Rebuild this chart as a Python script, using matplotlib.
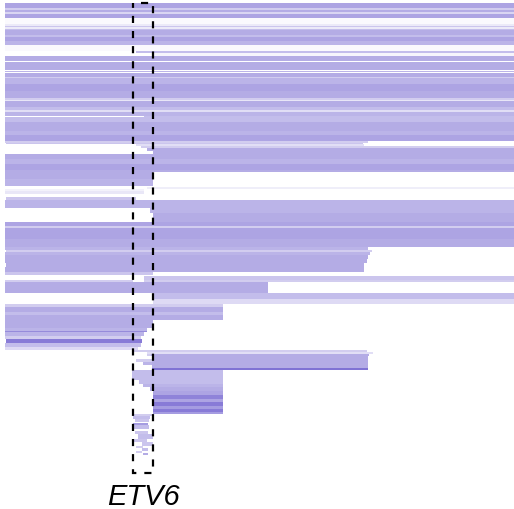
"""Deletion segments around ETV6, one bar per sample segment."""

import matplotlib
matplotlib.use("Agg")
import matplotlib.pyplot as plt
from matplotlib.colors import to_rgba
from matplotlib.patches import Rectangle

# segment rows (top/bottom in sample-row units), genomic span (bins) and depth
row_top = [4, 9, 10.5, 13, 14.5, 19, 25, 27, 28, 29.5,
           31, 36, 38, 42, 46, 52, 54, 57, 63, 71.5,
           73.5, 78, 79, 85, 92, 99, 101, 102, 108, 111,
           113, 117, 118, 123, 132, 136, 142, 143.5, 145, 147,
           149, 152, 155, 160, 165, 171, 173, 180, 188, 190,
           192, 198, 201, 209, 214, 223, 227, 229, 240, 248,
           251, 253, 256, 260, 264, 268, 273, 277, 281, 281,
           283, 294, 300, 305, 308, 313, 316, 321, 329, 332,
           333, 337, 340, 344, 348, 351, 353, 355, 357, 369,
           355, 360, 363, 371, 381, 385, 388, 392, 396, 400,
           403, 407, 410, 413, 415, 417, 420, 424, 426, 432,
           435, 440, 443, 447, 449, 452, 454]
row_bottom = [9, 10.5, 13, 14.5, 19, 25, 27, 28, 29.5, 31,
              36, 38, 42, 46, 52, 54, 57, 62, 71, 73,
              78, 79, 85, 92, 99, 101, 102, 108, 111, 113,
              117, 118, 123, 132, 136, 142, 143.5, 145, 147, 149,
              152, 155, 160, 165, 171, 173, 180, 187, 189.5, 192,
              195, 201, 209, 214, 223, 227, 229, 240, 248, 251,
              253, 256, 260, 264, 268, 273, 276, 281, 283, 283,
              294, 300, 305, 308, 313, 316, 321, 329, 332, 333,
              337, 340, 344, 348, 351, 353, 355, 357, 369, 370.5,
              357, 363, 366, 381, 385, 388, 392, 396, 400, 403,
              407, 410, 413, 415, 417, 420, 423, 426, 430, 435,
              440, 443, 447, 449, 452, 454, 456]
seg_start = [5, 5, 5, 5, 5, 5, 5, 5, 5, 5,
             5, 5, 5, 5, 5, 136, 153, 5, 5, 5,
             5, 5, 5, 5, 5, 5, 5, 5, 5, 5,
             5, 144, 5, 5, 5, 5, 5, 6, 136, 141,
             147, 153, 5, 5, 5, 5, 5, 5, 147, 5,
             5, 6, 5, 150, 153, 5, 5, 5, 5, 5,
             6, 5, 5, 5, 6, 5, 5, 144, 5, 144,
             5, 153, 153, 5, 5, 5, 5, 5, 5, 5,
             5, 5, 6, 5, 5, 133, 147, 151, 152, 152,
             147, 136, 143, 132, 139, 143, 150, 153, 153, 153,
             153, 153, 153, 153, 132, 133, 135, 133, 133, 135,
             138, 133, 142, 136, 142, 136, 143]
seg_end = [514, 514, 514, 514, 514, 514, 514, 514, 514, 514,
           514, 514, 514, 514, 514, 514, 514, 514, 514, 514,
           514, 514, 514, 514, 514, 514, 514, 514, 514, 514,
           514, 514, 514, 514, 514, 514, 368, 363, 364, 514,
           514, 514, 514, 514, 514, 514, 153, 153, 514, 144,
           144, 136, 514, 514, 514, 514, 514, 514, 514, 368,
           372, 370, 368, 367, 364, 364, 153, 514, 133, 514,
           268, 514, 514, 223, 223, 223, 223, 153, 147, 147,
           144, 141, 142, 141, 138, 367, 373, 369, 368, 368,
           151, 152, 152, 223, 223, 223, 223, 223, 223, 223,
           223, 223, 223, 223, 152, 150, 149, 148, 149, 148,
           153, 147, 153, 143, 148, 142, 148]
seg_depth = [0.55, 0.3, 0.5, 0.25, 0.55, 0.03, 0.12, 0.35, 0.12, 0.4,
             0.5, 0.4, 0.55, 0.45, 0.03, 0.4, 0.06, 0.5, 0.5, 0.45,
             0.5, 0.3, 0.45, 0.55, 0.5, 0.3, 0.15, 0.5, 0.4, 0.2,
             0.45, 0.4, 0.4, 0.5, 0.45, 0.55, 0.3, 0.35, 0.2, 0.3,
             0.5, 0.5, 0.5, 0.45, 0.55, 0.5, 0.5, 0.45, 0.1, 0.08,
             0.14, 0.35, 0.45, 0.45, 0.5, 0.55, 0.3, 0.55, 0.5, 0.45,
             0.3, 0.45, 0.5, 0.5, 0.5, 0.5, 0.35, 0.35, 0.3, 0.3,
             0.5, 0.4, 0.22, 0.3, 0.5, 0.4, 0.5, 0.5, 0.45, 0.7,
             0.45, 0.3, 0.8, 0.4, 0.22, 0.3, 0.2, 0.5, 0.5, 0.85,
             0.3, 0.3, 0.45, 0.4, 0.4, 0.45, 0.5, 0.55, 0.75, 0.55,
             0.8, 0.6, 0.8, 0.6, 0.3, 0.4, 0.35, 0.6, 0.4, 0.35,
             0.4, 0.35, 0.35, 0.3, 0.4, 0.3, 0.5]

gene_name = "ETV6"
gene_start, gene_end = 133, 153

fig = plt.figure(figsize=(5.14, 5.10), dpi=100)
ax = fig.add_axes([0, 0, 1, 1])
ax.set_xlim(0, 514)
ax.set_ylim(510, 0)
ax.axis("off")

centers = [(t + b) / 2 for t, b in zip(row_top, row_bottom)]
heights = [b - t for t, b in zip(row_top, row_bottom)]
widths = [e - s for s, e in zip(seg_start, seg_end)]
colors = [to_rgba("#6a5acd", d) for d in seg_depth]
ax.barh(centers, widths, left=seg_start, height=heights,
        color=colors, linewidth=0)

# dashed box marking the gene
ax.add_patch(Rectangle((gene_start, 4), gene_end - gene_start, 470,
                       fill=False, edgecolor="black", linewidth=1.6,
                       linestyle=(3.2, (3.2, 3.6)), zorder=5))
ax.text((gene_start + gene_end) / 2, 505, gene_name, style="italic",
        family=["Liberation Sans", "DejaVu Sans"], fontsize=21,
        ha="center", va="baseline")

fig.savefig("out.png", dpi=100)
